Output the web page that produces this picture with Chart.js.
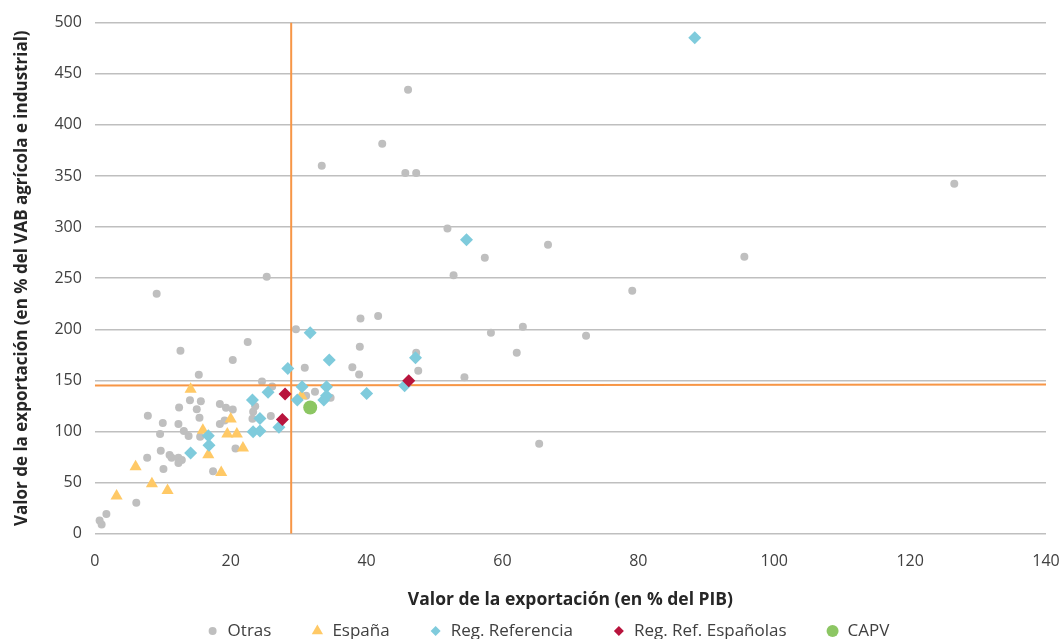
<!DOCTYPE html>
<html>
<head>
<meta charset="utf-8">
<script src="https://cdn.jsdelivr.net/npm/chart.js@4"></script>
<style>
  html, body { margin: 0; padding: 0; background: #fff; }
  #wrap { width: 1062px; height: 639px; }
</style>
</head>
<body>
<div id="wrap"><canvas id="chart" width="1062" height="639"></canvas></div>
<script>
// values: [% del PIB, % del VAB agrícola e industrial]
const otras = [
  [9.1, 234.8], [46.1, 434.4], [42.3, 381.6], [33.4, 360], [45.7, 353], [47.3, 353],
  [126.5, 342.5], [51.9, 298.5], [66.7, 282.8], [52.8, 252.8], [25.3, 251.5], [57.4, 270],
  [95.6, 271], [79.1, 237.8], [41.7, 213], [39.1, 210.7], [29.6, 200], [63.0, 202.5],
  [58.3, 196.7], [72.3, 193.7], [22.5, 187.5], [39.0, 183], [12.6, 179], [62.1, 177.1],
  [47.3, 177.1], [20.3, 170], [37.9, 163], [30.9, 162.5], [47.6, 159.5], [15.3, 155.5],
  [38.9, 155.8], [54.4, 153], [24.6, 149], [65.4, 88], [32.4, 139], [26.1, 144],
  [31.1, 135], [34.7, 133], [14.0, 130.6], [15.6, 129.7], [12.4, 123.6], [15.0, 121.8],
  [18.4, 126.9], [19.3, 123.3], [20.3, 121.6], [15.4, 113.5], [7.8, 115.5], [10.0, 108.3],
  [12.3, 107.3], [13.1, 100.5], [13.8, 95.6], [9.6, 97.5], [15.5, 95], [18.4, 107.3],
  [19.1, 110.8], [23.3, 119.4], [23.6, 124.8], [23.2, 112.5], [25.9, 115.2], [9.7, 81.2],
  [11.0, 77], [11.3, 74.4], [12.3, 74.4], [12.8, 72.1], [12.3, 69.2], [7.7, 74.4],
  [10.1, 63.3], [20.7, 83.5], [17.4, 61.2], [6.1, 30.3], [1.7, 19.3], [0.7, 13], [1.0, 9.1]
];
const espana = [
  [14.1, 141.5], [20.0, 112.2], [15.9, 101.4], [19.5, 97.5], [20.9, 97.5], [21.8, 84],
  [16.7, 77.2], [6.0, 65.5], [8.4, 48.9], [10.7, 42.4], [3.2, 36.9], [18.6, 60], [30.4, 135]
];
const regReferencia = [
  [88.3, 485.3], [54.7, 287.5], [31.7, 196.7], [34.5, 170], [47.2, 172.2], [28.4, 161.8],
  [25.5, 138.5], [23.2, 130.8], [30.5, 143.8], [34.1, 143.8], [29.8, 130.8], [34.1, 135],
  [33.7, 130.8], [40.0, 137.3], [45.6, 144.8], [24.3, 112.8], [27.1, 104.3], [23.3, 99.8],
  [24.3, 100.5], [16.7, 96], [16.8, 86.5], [14.1, 79]
];
const regRefEspanolas = [[46.2, 149.7], [28.0, 136.8], [27.6, 111.8]];
const capv = [[31.7, 123.5]];

// orange reference lines
const refX = 28.9;
const refY = [145, 146];

const xTicks = [0, 20, 40, 60, 80, 100, 120, 140];
const yTicks = [0, 50, 100, 150, 200, 250, 300, 350, 400, 450, 500];

const toXY = arr => arr.map(p => ({x: p[0], y: p[1]}));
const font = 'Open Sans';

function pointSet(label, data, color, style, radius, legendR, order) {
  return {
    type: 'scatter',
    label: label,
    data: toXY(data),
    backgroundColor: color,
    borderColor: color,
    borderWidth: 0,
    pointStyle: style,
    pointRadius: radius,
    pointHoverRadius: radius,
    legendR: legendR,
    order: order
  };
}

function marker(ctx, style, x, y, r) {
  ctx.beginPath();
  if (style === 'circle') {
    ctx.arc(x, y, r, 0, Math.PI * 2);
  } else if (style === 'triangle') {
    for (let i = 0; i < 3; i++) {
      const a = i * 2 * Math.PI / 3;
      ctx.lineTo(x + Math.sin(a) * r, y - Math.cos(a) * r);
    }
  } else {
    ctx.moveTo(x - r, y); ctx.lineTo(x, y - r); ctx.lineTo(x + r, y); ctx.lineTo(x, y + r);
  }
  ctx.closePath();
  ctx.fill();
}

// legend drawn by hand so item spacing can match the original
const bottomLegend = {
  id: 'bottomLegend',
  afterDraw(chart) {
    const ctx = chart.ctx;
    const items = chart.data.datasets.filter(d => d.legendR);
    ctx.save();
    ctx.font = '17px "' + font + '"';
    ctx.textBaseline = 'middle';
    const widths = items.map(d => ctx.measureText(d.label).width);
    const toText = 15, gap = 46;
    const total = widths.reduce((s, w) => s + w, 0) + toText * items.length + gap * (items.length - 1);
    let x = chart.width / 2 + 20 - total / 2;
    const y = 631;
    items.forEach((d, i) => {
      ctx.fillStyle = d.backgroundColor;
      marker(ctx, d.pointStyle, x, y, d.legendR);
      ctx.fillStyle = '#404040';
      ctx.fillText(d.label, x + toText, y);
      x += toText + widths[i] + gap;
    });
    ctx.restore();
  }
};

const chart = new Chart(document.getElementById('chart').getContext('2d'), {
  data: {
    datasets: [
      pointSet('Otras', otras, '#bfbfbf', 'circle', 4, 4, 10),
      pointSet('España', espana, '#ffc966', 'triangle', 7, 6.5, 8),
      pointSet('Reg. Referencia', regReferencia, '#7fcbdc', 'rectRot', 6.5, 5, 7),
      pointSet('Reg. Ref. Españolas', regRefEspanolas, '#b8143d', 'rectRot', 6.5, 5, 6),
      pointSet('CAPV', capv, '#8cc663', 'circle', 7, 6, 5),
      {
        type: 'line', label: 'refV',
        data: [{x: refX, y: 0}, {x: refX, y: 500}],
        borderColor: '#f79646', borderWidth: 2, pointRadius: 0, order: 9
      },
      {
        type: 'line', label: 'refH',
        data: [{x: 0, y: refY[0]}, {x: 140, y: refY[1]}],
        borderColor: '#f79646', borderWidth: 2, pointRadius: 0, order: 9
      }
    ]
  },
  options: {
    responsive: false,
    animation: false,
    layout: { padding: { top: 12, right: 0, left: 12, bottom: 28 } },
    plugins: {
      tooltip: { enabled: false },
      legend: { display: false }
    },
    scales: {
      x: {
        type: 'linear',
        min: 0, max: 140,
        afterBuildTicks: axis => { axis.ticks = xTicks.map(v => ({value: v})); },
        afterFit: axis => { axis.paddingRight = 16; },
        grid: { display: false },
        border: { display: false },
        ticks: { color: '#404040', padding: 10, font: { family: font, size: 16 } },
        title: {
          display: true,
          text: 'Valor de la exportación (en % del PIB)',
          color: '#262626',
          padding: { top: 9, bottom: 0 },
          font: { family: font, size: 17.5, weight: 'bold' }
        }
      },
      y: {
        type: 'linear',
        min: 0, max: 500,
        afterBuildTicks: axis => { axis.ticks = yTicks.map(v => ({value: v})); },
        grid: { color: '#bfbfbf', lineWidth: 1.5, drawTicks: false },
        border: { display: false },
        ticks: { color: '#404040', padding: 13, font: { family: font, size: 16 } },
        title: {
          display: true,
          text: 'Valor de la exportación (en % del VAB agrícola e industrial)',
          color: '#262626',
          padding: { top: 0, bottom: 9 },
          font: { family: font, size: 17, weight: 'bold' }
        }
      }
    }
  },
  plugins: [bottomLegend]
});
</script>
</body>
</html>
